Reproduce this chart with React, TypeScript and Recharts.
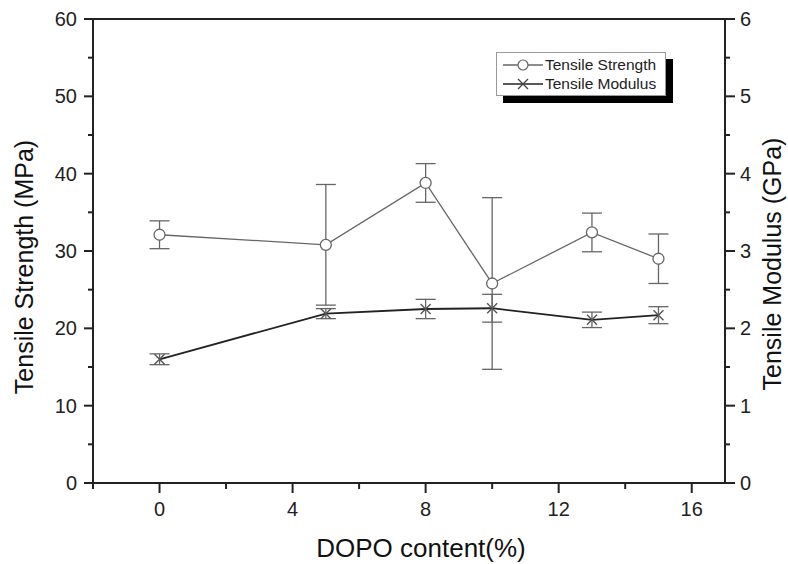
import { ComposedChart, ErrorBar, Label, Legend, Line, ReferenceLine, XAxis, YAxis } from "recharts";

const content = [0, 5, 8, 10, 13, 15];
const strength = [32.1, 30.8, 38.8, 25.8, 32.4, 29.0];
const strengthErr = [1.8, 7.8, 2.5, 11.1, 2.5, 3.2];
const modulus = [1.6, 2.19, 2.25, 2.26, 2.11, 2.17];
const modulusErr = [0.07, 0.065, 0.125, 0.18, 0.1, 0.11];

const xTicks = [-2, 0, 2, 4, 6, 8, 10, 12, 14, 16];
const leftTicks = [0, 5, 10, 15, 20, 25, 30, 35, 40, 45, 50, 55, 60];
const rightTicks = [0, 0.5, 1, 1.5, 2, 2.5, 3, 3.5, 4, 4.5, 5, 5.5, 6];

const data = content.map((c, i) => ({
  content: c,
  strength: strength[i],
  sErr: strengthErr[i],
  modulus: modulus[i],
  mErr: modulusErr[i],
}));

const FONT = '"Liberation Sans", Arial, sans-serif';
const AXIS = "#222";

function XTick({ x, y, payload }: any) {
  const major = payload.value % 4 === 0;
  return (
    <g>
      <line x1={x} x2={x} y1={y} y2={y + (major ? 10 : 6)} stroke={AXIS} strokeWidth={2} />
      {major && (
        <text x={x} y={y + 33} textAnchor="middle" fontSize={20} fontFamily={FONT} fill="#222">
          {payload.value}
        </text>
      )}
    </g>
  );
}

function LeftTick({ x, y, payload }: any) {
  const major = payload.value % 10 === 0;
  return (
    <g>
      <line x1={x - (major ? 9 : 5)} x2={x} y1={y} y2={y} stroke={AXIS} strokeWidth={2} />
      {major && (
        <text x={x - 16} y={y + 7} textAnchor="end" fontSize={20} fontFamily={FONT} fill="#222">
          {payload.value}
        </text>
      )}
    </g>
  );
}

function RightTick({ x, y, payload }: any) {
  const major = payload.value % 1 === 0;
  return (
    <g>
      <line x1={x} x2={x + (major ? 10 : 5)} y1={y} y2={y} stroke={AXIS} strokeWidth={2} />
      {major && (
        <text x={x + 15} y={y + 7} textAnchor="start" fontSize={20} fontFamily={FONT} fill="#222">
          {payload.value}
        </text>
      )}
    </g>
  );
}

function CircleDot({ cx, cy, index }: any) {
  return <circle key={`c${index}`} cx={cx} cy={cy} r={5.5} fill="#fff" stroke="#666" strokeWidth={1.3} />;
}

function CrossDot({ cx, cy, index }: any) {
  const s = 5;
  return (
    <path
      key={`x${index}`}
      d={`M${cx - s},${cy - s}L${cx + s},${cy + s}M${cx - s},${cy + s}L${cx + s},${cy - s}`}
      stroke="#555"
      strokeWidth={1.4}
      fill="none"
    />
  );
}

function LegendBox() {
  const row = (label: string, cross: boolean) => (
    <div style={{ display: "flex", alignItems: "center", height: 19 }}>
      <svg width={44} height={14}>
        <line x1={2} x2={42} y1={7} y2={7} stroke={cross ? "#222" : "#666"} strokeWidth={1.3} />
        {cross ? (
          <path d="M17,2L27,12M17,12L27,2" stroke="#444" strokeWidth={1.3} fill="none" />
        ) : (
          <circle cx={22} cy={7} r={5} fill="#fff" stroke="#666" strokeWidth={1.2} />
        )}
      </svg>
      <span style={{ fontSize: 15.5, fontFamily: FONT }}>{label}</span>
    </div>
  );
  return (
    <div
      style={{
        width: 164,
        height: 40,
        padding: "2px 0 0 4px",
        background: "#fff",
        border: "1px solid #999",
        boxShadow: "7px 7px 0 #000",
        fontFamily: FONT,
        fontSize: 15.5,
        color: "#222",
        boxSizing: "content-box",
      }}
    >
      {row("Tensile Strength", false)}
      {row("Tensile Modulus", true)}
    </div>
  );
}

export default function App() {
  return (
    <div style={{ position: "absolute", left: 0, top: 0, width: 788, height: 564, background: "#fff" }}>
      <ComposedChart width={788} height={564} data={data} margin={{ top: 19, right: 3, bottom: 21, left: 13 }}>
        <XAxis
          dataKey="content"
          type="number"
          domain={[-2, 17]}
          ticks={xTicks}
          tick={<XTick />}
          tickSize={0}
          tickMargin={0}
          tickLine={false}
          axisLine={{ stroke: AXIS, strokeWidth: 2 }}
          height={60}
          interval={0}
        >
          <Label
            content={() => (
              <text x={421} y={557} textAnchor="middle" fontSize={26} fontFamily={FONT} fill="#111">
                DOPO content(%)
              </text>
            )}
          />
        </XAxis>
        <YAxis
          yAxisId="left"
          domain={[0, 60]}
          ticks={leftTicks}
          tick={<LeftTick />}
          tickSize={0}
          tickMargin={0}
          tickLine={false}
          axisLine={{ stroke: AXIS, strokeWidth: 2 }}
          width={80}
          interval={0}
        >
          <Label
            content={() => (
              <text
                x={33}
                y={267}
                transform="rotate(-90 33 267)"
                textAnchor="middle"
                fontSize={25}
                fontFamily={FONT}
                fill="#111"
              >
                Tensile Strength (MPa)
              </text>
            )}
          />
        </YAxis>
        <YAxis
          yAxisId="right"
          orientation="right"
          domain={[0, 6]}
          ticks={rightTicks}
          tick={<RightTick />}
          tickSize={0}
          tickMargin={0}
          tickLine={false}
          axisLine={{ stroke: AXIS, strokeWidth: 2 }}
          width={60}
          interval={0}
        >
          <Label
            content={() => (
              <text
                x={781}
                y={264}
                transform="rotate(-90 781 264)"
                textAnchor="middle"
                fontSize={25}
                fontFamily={FONT}
                fill="#111"
              >
                Tensile Modulus (GPa)
              </text>
            )}
          />
        </YAxis>
        <ReferenceLine yAxisId="left" y={60} stroke={AXIS} strokeWidth={2} />
        <Legend
          layout="vertical"
          align="center"
          verticalAlign="middle"
          content={() => <LegendBox />}
          wrapperStyle={{ left: 496, top: 52, width: 170, height: 44 }}
        />
        <Line
          yAxisId="left"
          dataKey="strength"
          name="Tensile Strength"
          stroke="#666"
          strokeWidth={1.3}
          dot={CircleDot}
          activeDot={false}
          isAnimationActive={false}
        >
          <ErrorBar dataKey="sErr" direction="y" width={10} stroke="#666" strokeWidth={1.3} />
        </Line>
        <Line
          yAxisId="right"
          dataKey="modulus"
          name="Tensile Modulus"
          stroke="#222"
          strokeWidth={1.8}
          dot={CrossDot}
          activeDot={false}
          isAnimationActive={false}
        >
          <ErrorBar dataKey="mErr" direction="y" width={10} stroke="#666" strokeWidth={1.3} />
        </Line>
      </ComposedChart>
    </div>
  );
}
